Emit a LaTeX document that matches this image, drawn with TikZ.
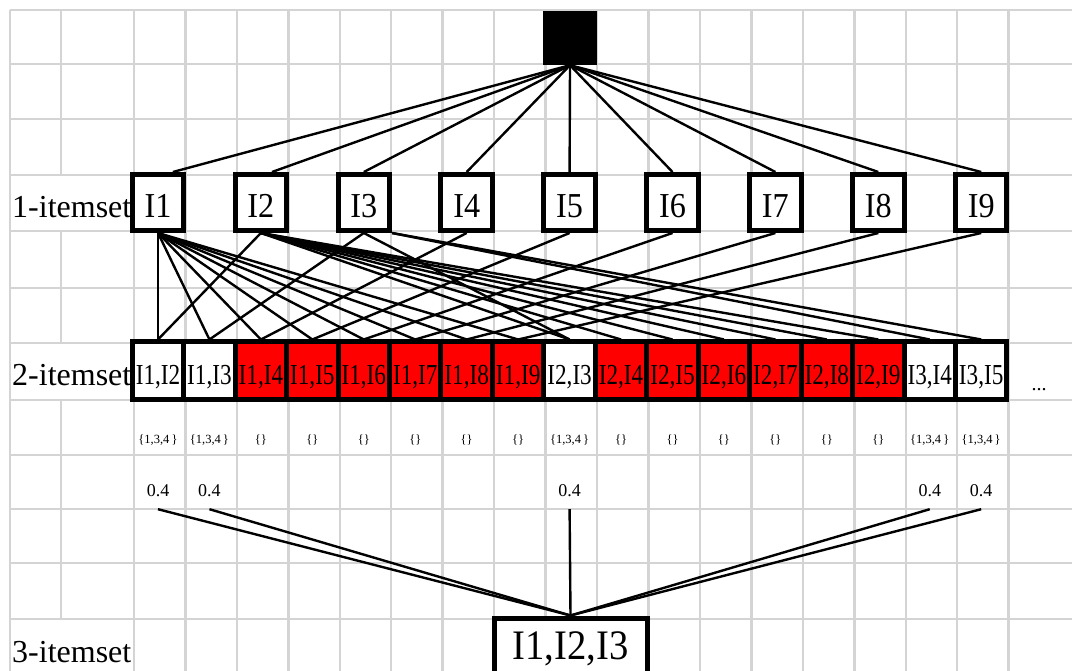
\documentclass[tikz,border=0pt]{standalone}
\usepackage{fontspec}
\setmainfont{Liberation Serif}
\newfontfamily\pairfont[FakeStretch=0.8]{Liberation Serif}
\newfontfamily\itemfont[FakeStretch=0.92]{Liberation Serif}
\tikzset{
    gridline/.style={draw=black!17, line width=2.6pt},
    edge/.style={line width=2.4pt},
    itembox/.style={draw, line width=5pt, fill=white, inner sep=0pt,
        minimum width=51.5pt, minimum height=56pt,
        font=\itemfont\fontsize{35}{35}\selectfont, text height=31pt, text depth=0pt},
    pairbox/.style={draw, line width=5pt, fill=white, inner sep=0pt,
        minimum width=51.45pt, minimum height=57pt,
        font=\pairfont\fontsize{29}{29}\selectfont, text height=28pt, text depth=0pt},
    redbox/.style={pairbox, fill=red},
    rowlabel/.style={anchor=base west, inner sep=0pt, font=\fontsize{32}{32}\selectfont},
    tidlist/.style={anchor=base, inner sep=0pt, font=\fontsize{12.5}{12.5}\selectfont},
    support/.style={anchor=base, inner xsep=0pt, inner ysep=13pt, text depth=0pt,
        font=\fontsize{18}{18}\selectfont}
}
\begin{document}
\begin{tikzpicture}[x=1pt, y=-1pt]
            \useasboundingbox (0,0) rectangle (1072,671);
            \draw [gridline] (10,10) -- (1072,10) (10,64) -- (1072,64) (10,119) -- (1072,119)
                (10,175) -- (1072,175) (10,231) -- (1072,231) (10,288) -- (1072,288)
                (10,343) -- (1072,343) (10,400) -- (1072,400) (10,455) -- (1072,455)
                (10,509) -- (1072,509) (10,563) -- (1072,563) (10,619) -- (1072,619);
            \draw [gridline] (10,10) -- (10,680) (61,10) -- (61,175) (61,231) -- (61,343) (61,400) -- (61,619);
            \draw [gridline] (134,10) -- (134,680) (185.5,10) -- (185.5,680) (237,10) -- (237,680)
                (288.5,10) -- (288.5,680) (340,10) -- (340,680) (391,10) -- (391,680)
                (442.5,10) -- (442.5,680) (494,10) -- (494,680) (545.5,10) -- (545.5,680)
                (597,10) -- (597,680) (648.5,10) -- (648.5,680) (700,10) -- (700,680)
                (751.5,10) -- (751.5,680) (803,10) -- (803,680) (854.5,10) -- (854.5,680)
                (906,10) -- (906,680) (957,10) -- (957,680) (1008.5,10) -- (1008.5,680);

            \node [fill=black, inner sep=0pt, minimum size=54pt] (nul) at (570,38) {};

            \node [rowlabel] at (12,218) {1-itemset};
            \node [itembox] (I1) at (158,202.5) {I1};
            \node [itembox] (I2) at (260.9,202.5) {I2};
            \node [itembox] (I3) at (363.8,202.5) {I3};
            \node [itembox] (I4) at (466.7,202.5) {I4};
            \node [itembox] (I5) at (569.6,202.5) {I5};
            \node [itembox] (I6) at (672.5,202.5) {I6};
            \node [itembox] (I7) at (775.4,202.5) {I7};
            \node [itembox] (I8) at (878.3,202.5) {I8};
            \node [itembox] (I9) at (981.2,202.5) {I9};

            \node [rowlabel] at (12,385) {2-itemset};
            \node [pairbox] (p12) at (158,370.5) {I1,I2};
            \node [pairbox] (p13) at (209.45,370.5) {I1,I3};
            \node [redbox] (p14) at (260.9,370.5) {I1,I4};
            \node [redbox] (p15) at (312.35,370.5) {I1,I5};
            \node [redbox] (p16) at (363.8,370.5) {I1,I6};
            \node [redbox] (p17) at (415.25,370.5) {I1,I7};
            \node [redbox] (p18) at (466.7,370.5) {I1,I8};
            \node [redbox] (p19) at (518.15,370.5) {I1,I9};
            \node [pairbox] (p23) at (569.6,370.5) {I2,I3};
            \node [redbox] (p24) at (621.05,370.5) {I2,I4};
            \node [redbox] (p25) at (672.5,370.5) {I2,I5};
            \node [redbox] (p26) at (723.95,370.5) {I2,I6};
            \node [redbox] (p27) at (775.4,370.5) {I2,I7};
            \node [redbox] (p28) at (826.85,370.5) {I2,I8};
            \node [redbox] (p29) at (878.3,370.5) {I2,I9};
            \node [pairbox] (p34) at (929.75,370.5) {I3,I4};
            \node [pairbox] (p35) at (981.2,370.5) {I3,I5};
            \node [anchor=base, inner sep=0pt, font=\fontsize{20}{20}\selectfont] (more) at (1039,390) {...};

            \node [tidlist] (t12) at (158,443) {\{1,3,4\,\}};
            \node [tidlist] (t13) at (209.45,443) {\{1,3,4\,\}};
            \node [tidlist] (t14) at (260.9,443) {\{\}};
            \node [tidlist] (t15) at (312.35,443) {\{\}};
            \node [tidlist] (t16) at (363.8,443) {\{\}};
            \node [tidlist] (t17) at (415.25,443) {\{\}};
            \node [tidlist] (t18) at (466.7,443) {\{\}};
            \node [tidlist] (t19) at (518.15,443) {\{\}};
            \node [tidlist] (t23) at (569.6,443) {\{1,3,4\,\}};
            \node [tidlist] (t24) at (621.05,443) {\{\}};
            \node [tidlist] (t25) at (672.5,443) {\{\}};
            \node [tidlist] (t26) at (723.95,443) {\{\}};
            \node [tidlist] (t27) at (775.4,443) {\{\}};
            \node [tidlist] (t28) at (826.85,443) {\{\}};
            \node [tidlist] (t29) at (878.3,443) {\{\}};
            \node [tidlist] (t34) at (929.75,443) {\{1,3,4\,\}};
            \node [tidlist] (t35) at (981.2,443) {\{1,3,4\,\}};

            \node [support] (s12) at (158,496) {0.4};
            \node [support] (s13) at (209.45,496) {0.4};
            \node [support] (s23) at (569.6,496) {0.4};
            \node [support] (s34) at (929.75,496) {0.4};
            \node [support] (s35) at (981.2,496) {0.4};

            \node [rowlabel] at (12,662) {3-itemset};
            \node [draw, line width=5pt, fill=white, inner sep=0pt, minimum width=153pt, minimum height=62pt,
                text depth=6pt, font=\itemfont\fontsize{42}{42}\selectfont] (I123) at (570.5,649) {I1,I2,I3};

            \draw [edge] (nul.south) -- (I1.64);
            \draw [edge] (nul.south) -- (I2.70);
            \draw [edge] (nul.south) -- (I3.north);
            \draw [edge] (nul.south) -- (I4.north);
            \draw [edge] (nul.south) -- (I5.north);
            \draw [edge] (nul.south) -- (I6.north);
            \draw [edge] (nul.south) -- (I7.north);
            \draw [edge] (nul.south) -- (I8.north);
            \draw [edge] (nul.south) -- (I9.north);

            \draw [edge] (I1.south) -- (p12.north);
            \draw [edge] (I1.south) -- (p13.north);
            \draw [edge] (I1.south) -- (p14.north);
            \draw [edge] (I1.south) -- (p15.north);
            \draw [edge] (I1.south) -- (p16.north);
            \draw [edge] (I1.south) -- (p17.north);
            \draw [edge] (I1.south) -- (p18.north);
            \draw [edge] (I1.south) -- (p19.north);
            \draw [edge] (I2.south) -- (p12.north);
            \draw [edge] (I2.south) -- (p23.north);
            \draw [edge] (I2.south) -- (p24.north);
            \draw [edge] (I2.south) -- (p25.north);
            \draw [edge] (I2.south) -- (p26.north);
            \draw [edge] (I2.south) -- (p27.north);
            \draw [edge] (I2.south) -- (p28.north);
            \draw [edge] (I2.south) -- (p29.north);
            \draw [edge] (I3.south) -- (p13.north);
            \draw [edge] (I3.south) -- (p23.north);
            \draw [edge] (I3.south east) -- (p34.north);
            \draw [edge] (I3.south east) -- (p35.north);
            \draw [edge] (I4.south) -- (p14.north);
            \draw [edge] (I5.south) -- (p15.north);
            \draw [edge] (I6.south) -- (p16.north);
            \draw [edge] (I7.south) -- (p17.north);
            \draw [edge] (I8.south) -- (p18.north);
            \draw [edge] (I9.south) -- (p19.north);

            \draw [edge] (s12.south) -- (I123.north);
            \draw [edge] (s13.south) -- (I123.north);
            \draw [edge] (s23.south) -- (I123.north);
            \draw [edge] (s34.south) -- (I123.north);
            \draw [edge] (s35.south) -- (I123.north);
        \end{tikzpicture}
\end{document}
